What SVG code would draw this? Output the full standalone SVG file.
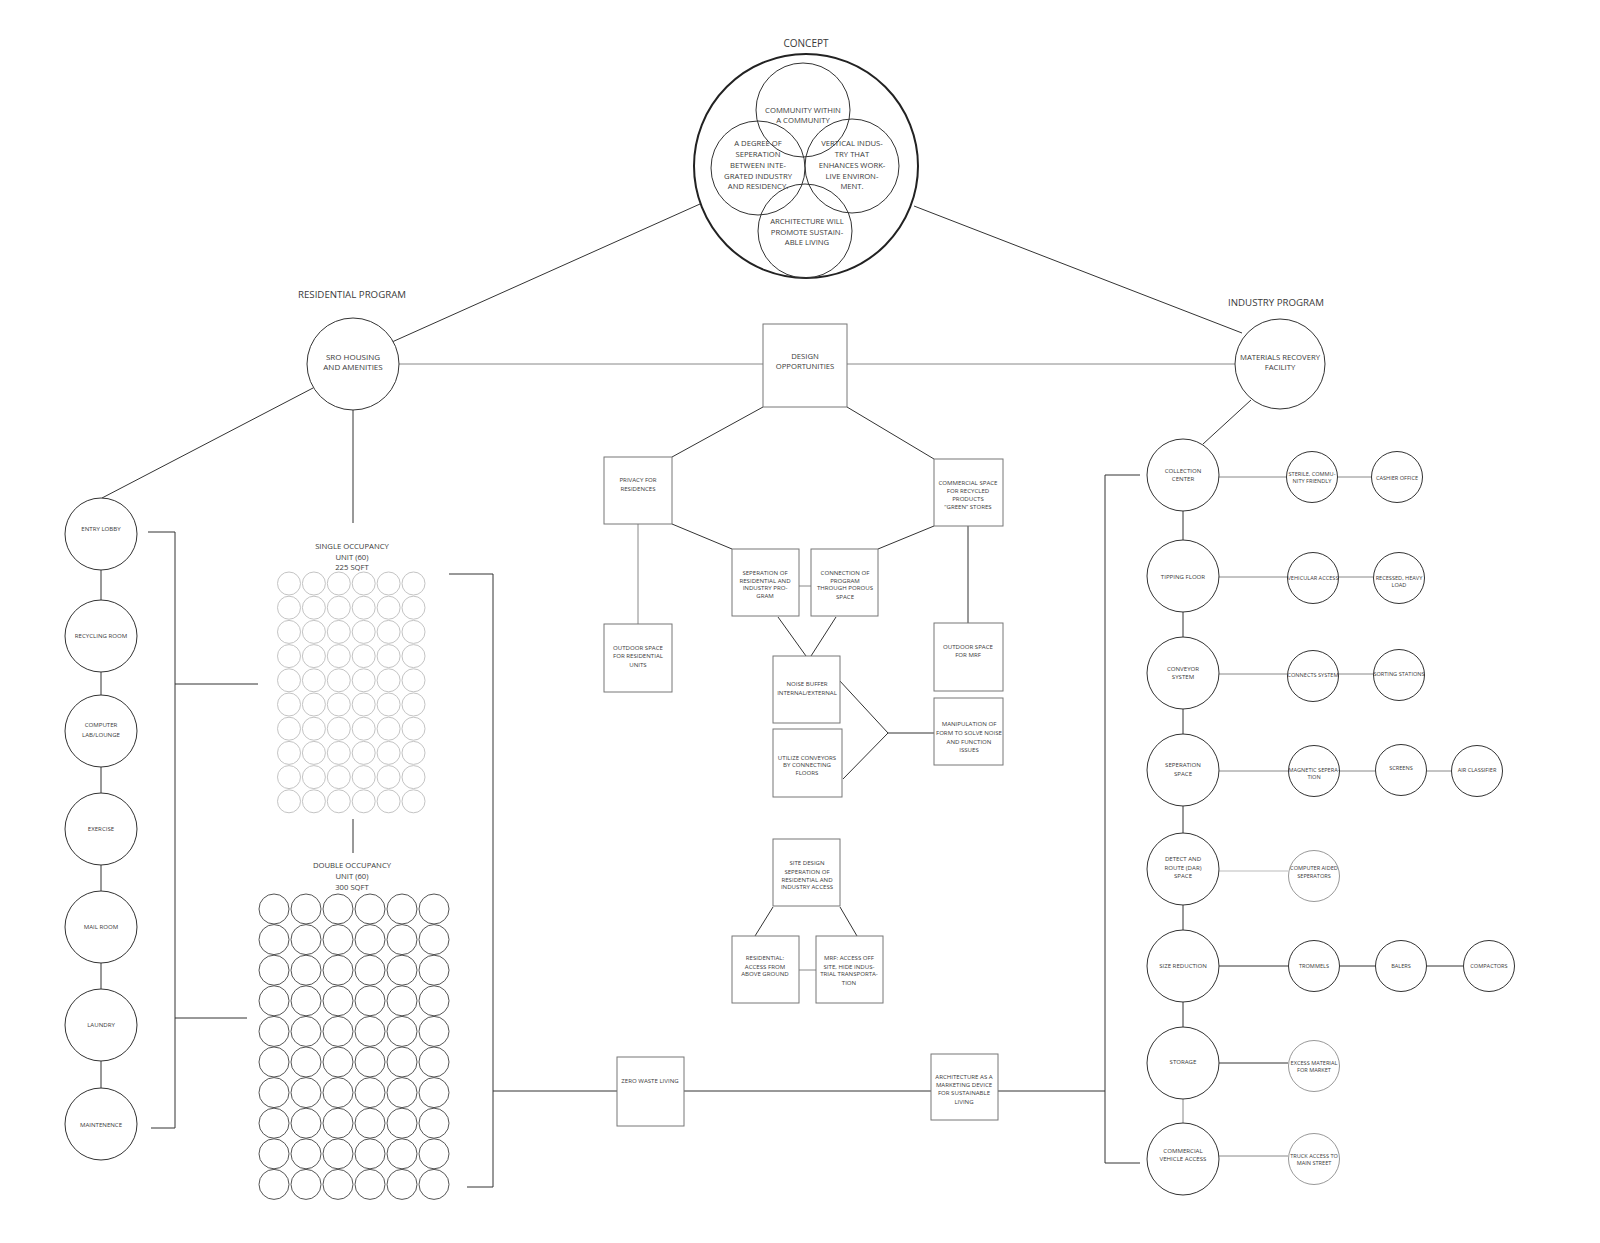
<svg xmlns="http://www.w3.org/2000/svg" width="1600" height="1243" viewBox="0 0 1600 1243">
<style>
.t{font-family:"Open Sans","Liberation Sans",sans-serif;fill:#3a3a3a;text-anchor:middle}
.s5{font-size:5.6px}.s6{font-size:6.1px}.s7{font-size:7.7px}.s8{font-size:8px}.s9{font-size:9.7px}
.ln{stroke:#333;stroke-width:1;fill:none}
.lg{stroke:#888;stroke-width:1;fill:none}
.ll{stroke:#bbb;stroke-width:1;fill:none}
.c{fill:#fff;stroke:#333;stroke-width:1}
.cl{fill:#fff;stroke:#999;stroke-width:1}
.b{fill:#fff;stroke:#777;stroke-width:1}
.cc{fill:none;stroke:#333;stroke-width:1}
.g1{fill:none;stroke:#c4c4c4;stroke-width:1}
.g2{fill:none;stroke:#555;stroke-width:1}
</style>
<rect width="1600" height="1243" fill="#fff"/>
<defs>
<g id="row1"><circle class="g1" cx="0" cy="0" r="11.5"/><circle class="g1" cx="24.9" cy="0" r="11.5"/><circle class="g1" cx="49.8" cy="0" r="11.5"/><circle class="g1" cx="74.7" cy="0" r="11.5"/><circle class="g1" cx="99.6" cy="0" r="11.5"/><circle class="g1" cx="124.5" cy="0" r="11.5"/></g>
<g id="row2"><circle class="g2" cx="0" cy="0" r="15"/><circle class="g2" cx="32" cy="0" r="15"/><circle class="g2" cx="64" cy="0" r="15"/><circle class="g2" cx="96" cy="0" r="15"/><circle class="g2" cx="128" cy="0" r="15"/><circle class="g2" cx="160" cy="0" r="15"/></g>
</defs>
<g id="connectors">
<line class="ln" x1="700" y1="204" x2="392" y2="342"/>
<line class="ln" x1="914" y1="206" x2="1242" y2="333"/>
<line class="lg" x1="399" y1="364" x2="763" y2="364"/>
<line class="lg" x1="847" y1="364" x2="1235" y2="364"/>
<line class="ln" x1="1251" y1="400" x2="1203" y2="444"/>
<line class="ln" x1="313" y1="388" x2="102" y2="498"/>
<line class="ln" x1="353" y1="410" x2="353" y2="523"/>
<line class="ln" x1="763" y1="407" x2="672" y2="457"/>
<line class="ln" x1="847" y1="407" x2="934" y2="459"/>
<line class="ln" x1="672" y1="524" x2="732" y2="549"/>
<line class="ln" x1="934" y1="526" x2="878" y2="549"/>
<line class="lg" x1="638" y1="524" x2="638" y2="624"/>
<line class="ln" x1="968" y1="526" x2="968" y2="623"/>
<line class="lg" x1="799" y1="586" x2="811" y2="586"/>
<line class="ln" x1="778" y1="617" x2="806" y2="656"/>
<line class="ln" x1="836" y1="617" x2="811" y2="656"/>
<line class="ln" x1="839" y1="680" x2="888" y2="733"/>
<line class="ln" x1="843" y1="779" x2="888" y2="733"/>
<line class="ln" x1="888" y1="733" x2="934" y2="733"/>
<line class="ln" x1="773" y1="907" x2="755" y2="936"/>
<line class="ln" x1="840" y1="907" x2="857" y2="936"/>
<line class="lg" x1="799" y1="970" x2="816" y2="970"/>
<line class="ln" x1="493" y1="1091" x2="617" y2="1091"/>
<line class="ln" x1="684" y1="1091" x2="931" y2="1091"/>
<line class="ln" x1="998" y1="1091" x2="1105" y2="1091"/>
<polyline class="ln" points="449,574 493,574 493,1187 467,1187"/>
<polyline class="ln" points="148,532 175,532 175,1128 151,1128"/>
<line class="ln" x1="175" y1="684" x2="258" y2="684"/>
<line class="ln" x1="175" y1="1018" x2="247" y2="1018"/>
<line class="ln" x1="353" y1="819" x2="353" y2="853"/>
<polyline class="ln" points="1140,475 1105,475 1105,1163 1140,1163"/>
<line class="ln" x1="101" y1="570" x2="101" y2="600"/>
<line class="ln" x1="101" y1="672" x2="101" y2="695"/>
<line class="ln" x1="101" y1="767" x2="101" y2="793"/>
<line class="ln" x1="101" y1="865" x2="101" y2="891"/>
<line class="ln" x1="101" y1="963" x2="101" y2="989"/>
<line class="ln" x1="101" y1="1061" x2="101" y2="1088"/>
<line class="ln" x1="1183" y1="511" x2="1183" y2="540"/>
<line class="ln" x1="1183" y1="612" x2="1183" y2="637"/>
<line class="ln" x1="1183" y1="709" x2="1183" y2="734"/>
<line class="ln" x1="1183" y1="806" x2="1183" y2="833"/>
<line class="ln" x1="1183" y1="905" x2="1183" y2="930"/>
<line class="ln" x1="1183" y1="1002" x2="1183" y2="1027"/>
<line class="lg" x1="1183" y1="1099" x2="1183" y2="1123"/>
<line class="lg" x1="1219" y1="477" x2="1372" y2="477"/>
<line class="lg" x1="1219" y1="577" x2="1373" y2="577"/>
<line class="lg" x1="1219" y1="674" x2="1373" y2="674"/>
<line class="lg" x1="1219" y1="771" x2="1451" y2="771"/>
<line class="ll" x1="1219" y1="871" x2="1288" y2="871"/>
<line class="ln" x1="1219" y1="966" x2="1463" y2="966"/>
<line class="ln" x1="1219" y1="1063" x2="1288" y2="1063"/>
<line class="lg" x1="1219" y1="1156" x2="1288" y2="1156"/>
</g>
<g id="concept">
<text class="t" x="806" y="47" style="font-size:10px">CONCEPT</text>
<circle cx="806" cy="166" r="112" fill="#fff" stroke="#222" stroke-width="2"/>
<circle class="cc" cx="803" cy="110" r="47"/>
<circle class="cc" cx="758" cy="168" r="47"/>
<circle class="cc" cx="852" cy="166" r="47"/>
<circle class="cc" cx="805" cy="231" r="47"/>
<text class="t s7"><tspan x="803" y="113">COMMUNITY WITHIN</tspan><tspan x="803" y="123">A COMMUNITY</tspan></text>
<text class="t s7"><tspan x="758" y="146">A DEGREE OF</tspan><tspan x="758" y="157">SEPERATION</tspan><tspan x="758" y="168">BETWEEN INTE-</tspan><tspan x="758" y="179">GRATED INDUSTRY</tspan><tspan x="758" y="189">AND RESIDENCY.</tspan></text>
<text class="t s7"><tspan x="852" y="146">VERTICAL INDUS-</tspan><tspan x="852" y="157">TRY THAT</tspan><tspan x="852" y="168">ENHANCES WORK-</tspan><tspan x="852" y="179">LIVE ENVIRON-</tspan><tspan x="852" y="189">MENT.</tspan></text>
<text class="t s7"><tspan x="807" y="224">ARCHITECTURE WILL</tspan><tspan x="807" y="235">PROMOTE SUSTAIN-</tspan><tspan x="807" y="245">ABLE LIVING</tspan></text>
</g>
<g id="residential-program"><text class="t s9" x="352" y="298">RESIDENTIAL PROGRAM</text></g>
<g id="industry-program"><text class="t s9" x="1276" y="306">INDUSTRY PROGRAM</text></g>
<g id="sro"><circle class="c" cx="353" cy="364" r="46"/><text class="t s8"><tspan x="353" y="360">SRO HOUSING</tspan><tspan x="353" y="370">AND AMENITIES</tspan></text></g>
<g id="design-opportunities"><rect class="b" x="763" y="324" width="84" height="83"/><text class="t s7"><tspan x="805" y="359">DESIGN</tspan><tspan x="805" y="369">OPPORTUNITIES</tspan></text></g>
<g id="mrf"><circle class="c" cx="1280" cy="364" r="45"/><text class="t s7"><tspan x="1280" y="360">MATERIALS RECOVERY</tspan><tspan x="1280" y="370">FACILITY</tspan></text></g>
<g id="privacy"><rect class="b" x="604" y="457" width="68" height="67"/><text class="t s6"><tspan x="638" y="482">PRIVACY FOR</tspan><tspan x="638" y="491">RESIDENCES</tspan></text></g>
<g id="commercial-space"><rect class="b" x="934" y="459" width="69" height="67"/><text class="t s6"><tspan x="968" y="485">COMMERCIAL SPACE</tspan><tspan x="968" y="493">FOR RECYCLED</tspan><tspan x="968" y="501">PRODUCTS</tspan><tspan x="968" y="509">“GREEN” STORES</tspan></text></g>
<g id="seperation-program"><rect class="b" x="732" y="549" width="67" height="67"/><text class="t s6"><tspan x="765" y="575">SEPERATION OF</tspan><tspan x="765" y="583">RESIDENTIAL AND</tspan><tspan x="765" y="590">INDUSTRY PRO-</tspan><tspan x="765" y="598">GRAM</tspan></text></g>
<g id="connection-program"><rect class="b" x="811" y="549" width="67" height="67"/><text class="t s6"><tspan x="845" y="575">CONNECTION OF</tspan><tspan x="845" y="583">PROGRAM</tspan><tspan x="845" y="590">THROUGH POROUS</tspan><tspan x="845" y="599">SPACE</tspan></text></g>
<g id="outdoor-residential"><rect class="b" x="604" y="624" width="68" height="68"/><text class="t s6"><tspan x="638" y="650">OUTDOOR SPACE</tspan><tspan x="638" y="658">FOR RESIDENTIAL</tspan><tspan x="638" y="667">UNITS</tspan></text></g>
<g id="outdoor-mrf"><rect class="b" x="934" y="623" width="69" height="68"/><text class="t s6"><tspan x="968" y="649">OUTDOOR SPACE</tspan><tspan x="968" y="657">FOR MRF</tspan></text></g>
<g id="noise-buffer"><rect class="b" x="773" y="656" width="67" height="67"/><text class="t s6"><tspan x="807" y="686">NOISE BUFFER</tspan><tspan x="807" y="695">INTERNAL/EXTERNAL</tspan></text></g>
<g id="utilize-conveyors"><rect class="b" x="773" y="729" width="69" height="68"/><text class="t s6"><tspan x="807" y="760">UTILIZE CONVEYORS</tspan><tspan x="807" y="767">BY CONNECTING</tspan><tspan x="807" y="775">FLOORS</tspan></text></g>
<g id="manipulation"><rect class="b" x="934" y="698" width="69" height="67"/><text class="t s6"><tspan x="969" y="726">MANIPULATION OF</tspan><tspan x="969" y="735">FORM TO SOLVE NOISE</tspan><tspan x="969" y="744">AND FUNCTION</tspan><tspan x="969" y="752">ISSUES</tspan></text></g>
<g id="site-design"><rect class="b" x="773" y="839" width="67" height="67"/><text class="t s6"><tspan x="807" y="865">SITE DESIGN</tspan><tspan x="807" y="874">SEPERATION OF</tspan><tspan x="807" y="882">RESIDENTIAL AND</tspan><tspan x="807" y="889">INDUSTRY ACCESS</tspan></text></g>
<g id="residential-access"><rect class="b" x="732" y="936" width="67" height="67"/><text class="t s6"><tspan x="765" y="960">RESIDENTIAL:</tspan><tspan x="765" y="969">ACCESS FROM</tspan><tspan x="765" y="976">ABOVE GROUND</tspan></text></g>
<g id="mrf-access"><rect class="b" x="816" y="936" width="67" height="67"/><text class="t s6"><tspan x="849" y="960">MRF: ACCESS OFF</tspan><tspan x="849" y="969">SITE, HIDE INDUS-</tspan><tspan x="849" y="976">TRIAL TRANSPORTA-</tspan><tspan x="849" y="985">TION</tspan></text></g>
<g id="zero-waste"><rect class="b" x="617" y="1057" width="67" height="69"/><text class="t s6" x="650" y="1083">ZERO WASTE LIVING</text></g>
<g id="architecture-marketing"><rect class="b" x="931" y="1054" width="67" height="66"/><text class="t s6"><tspan x="964" y="1079">ARCHITECTURE AS A</tspan><tspan x="964" y="1087">MARKETING DEVICE</tspan><tspan x="964" y="1095">FOR SUSTAINABLE</tspan><tspan x="964" y="1104">LIVING</tspan></text></g>
<g id="single-occupancy">
<text class="t s7"><tspan x="352" y="549">SINGLE OCCUPANCY</tspan><tspan x="352" y="560">UNIT (60)</tspan><tspan x="352" y="570">225 SQFT</tspan></text>
<use href="#row1" x="289" y="583.5"/><use href="#row1" x="289" y="607.7"/><use href="#row1" x="289" y="631.9"/><use href="#row1" x="289" y="656.1"/><use href="#row1" x="289" y="680.3"/><use href="#row1" x="289" y="704.5"/><use href="#row1" x="289" y="728.7"/><use href="#row1" x="289" y="752.9"/><use href="#row1" x="289" y="777.1"/><use href="#row1" x="289" y="801.3"/>
</g>
<g id="double-occupancy">
<text class="t s7"><tspan x="352" y="868">DOUBLE OCCUPANCY</tspan><tspan x="352" y="879">UNIT (60)</tspan><tspan x="352" y="890">300 SQFT</tspan></text>
<use href="#row2" x="274" y="909"/><use href="#row2" x="274" y="939.6"/><use href="#row2" x="274" y="970.2"/><use href="#row2" x="274" y="1000.8"/><use href="#row2" x="274" y="1031.4"/><use href="#row2" x="274" y="1062"/><use href="#row2" x="274" y="1092.6"/><use href="#row2" x="274" y="1123.2"/><use href="#row2" x="274" y="1153.8"/><use href="#row2" x="274" y="1184.4"/>
</g>
<g id="entry-lobby"><circle class="c" cx="101" cy="534" r="36"/><text class="t s6" x="101" y="531">ENTRY LOBBY</text></g>
<g id="recycling-room"><circle class="c" cx="101" cy="636" r="36"/><text class="t s6" x="101" y="638">RECYCLING ROOM</text></g>
<g id="computer-lab"><circle class="c" cx="101" cy="731" r="36"/><text class="t s6"><tspan x="101" y="727">COMPUTER</tspan><tspan x="101" y="737">LAB/LOUNGE</tspan></text></g>
<g id="exercise"><circle class="c" cx="101" cy="829" r="36"/><text class="t s6" x="101" y="831">EXERCISE</text></g>
<g id="mail-room"><circle class="c" cx="101" cy="927" r="36"/><text class="t s6" x="101" y="929">MAIL ROOM</text></g>
<g id="laundry"><circle class="c" cx="101" cy="1025" r="36"/><text class="t s6" x="101" y="1027">LAUNDRY</text></g>
<g id="maintenence"><circle class="c" cx="101" cy="1124" r="36"/><text class="t s6" x="101" y="1127">MAINTENENCE</text></g>
<g id="collection-center"><circle class="c" cx="1183" cy="475" r="36"/><text class="t s6"><tspan x="1183" y="473">COLLECTION</tspan><tspan x="1183" y="481">CENTER</tspan></text></g>
<g id="tipping-floor"><circle class="c" cx="1183" cy="576" r="36"/><text class="t s6" x="1183" y="579">TIPPING FLOOR</text></g>
<g id="conveyor-system"><circle class="c" cx="1183" cy="673" r="36"/><text class="t s6"><tspan x="1183" y="671">CONVEYOR</tspan><tspan x="1183" y="679">SYSTEM</tspan></text></g>
<g id="seperation-space"><circle class="c" cx="1183" cy="770" r="36"/><text class="t s6"><tspan x="1183" y="767">SEPERATION</tspan><tspan x="1183" y="776">SPACE</tspan></text></g>
<g id="detect-route"><circle class="c" cx="1183" cy="869" r="36"/><text class="t s6"><tspan x="1183" y="861">DETECT AND</tspan><tspan x="1183" y="870">ROUTE (DAR)</tspan><tspan x="1183" y="878">SPACE</tspan></text></g>
<g id="size-reduction"><circle class="c" cx="1183" cy="966" r="36"/><text class="t s6" x="1183" y="968">SIZE REDUCTION</text></g>
<g id="storage"><circle class="c" cx="1183" cy="1063" r="36"/><text class="t s6" x="1183" y="1064">STORAGE</text></g>
<g id="commercial-vehicle"><circle class="c" cx="1183" cy="1159" r="36"/><text class="t s6"><tspan x="1183" y="1153">COMMERCIAL</tspan><tspan x="1183" y="1161">VEHICLE ACCESS</tspan></text></g>
<g id="sterile"><circle class="c" cx="1312" cy="477" r="25.5"/><text class="t s5"><tspan x="1312" y="476">STERILE, COMMU-</tspan><tspan x="1312" y="483">NITY FRIENDLY</tspan></text></g>
<g id="cashier"><circle class="c" cx="1397" cy="477" r="25.5"/><text class="t s5" x="1397" y="480">CASHIER OFFICE</text></g>
<g id="vehicular-access"><circle class="c" cx="1313" cy="578" r="25.5"/><text class="t s5" x="1313" y="580">VEHICULAR ACCESS</text></g>
<g id="recessed"><circle class="c" cx="1399" cy="578" r="25.5"/><text class="t s5"><tspan x="1399" y="580">RECESSED, HEAVY</tspan><tspan x="1399" y="587">LOAD</tspan></text></g>
<g id="connects-system"><circle class="c" cx="1313" cy="676" r="25.5"/><text class="t s5" x="1313" y="677">CONNECTS SYSTEM</text></g>
<g id="sorting-stations"><circle class="c" cx="1399" cy="675" r="25.5"/><text class="t s5" x="1399" y="676">SORTING STATIONS</text></g>
<g id="magnetic"><circle class="c" cx="1314" cy="771" r="25.5"/><text class="t s5"><tspan x="1314" y="772">MAGNETIC SEPERA-</tspan><tspan x="1314" y="779">TION</tspan></text></g>
<g id="screens"><circle class="c" cx="1401" cy="770" r="25.5"/><text class="t s5" x="1401" y="770">SCREENS</text></g>
<g id="air-classifier"><circle class="c" cx="1477" cy="771" r="25.5"/><text class="t s5" x="1477" y="772">AIR CLASSIFIER</text></g>
<g id="computer-aided"><circle class="cl" cx="1314" cy="876" r="25.5"/><text class="t s5"><tspan x="1314" y="870">COMPUTER AIDED</tspan><tspan x="1314" y="878">SEPERATORS</tspan></text></g>
<g id="trommels"><circle class="c" cx="1314" cy="966" r="25.5"/><text class="t s5" x="1314" y="968">TROMMELS</text></g>
<g id="balers"><circle class="c" cx="1401" cy="966" r="25.5"/><text class="t s5" x="1401" y="968">BALERS</text></g>
<g id="compactors"><circle class="c" cx="1489" cy="966" r="25.5"/><text class="t s5" x="1489" y="968">COMPACTORS</text></g>
<g id="excess-material"><circle class="cl" cx="1314" cy="1066" r="25.5"/><text class="t s5"><tspan x="1314" y="1065">EXCESS MATERIAL</tspan><tspan x="1314" y="1072">FOR MARKET</tspan></text></g>
<g id="truck-access"><circle class="cl" cx="1314" cy="1159" r="25.5"/><text class="t s5"><tspan x="1314" y="1158">TRUCK ACCESS TO</tspan><tspan x="1314" y="1165">MAIN STREET</tspan></text></g>
</svg>
